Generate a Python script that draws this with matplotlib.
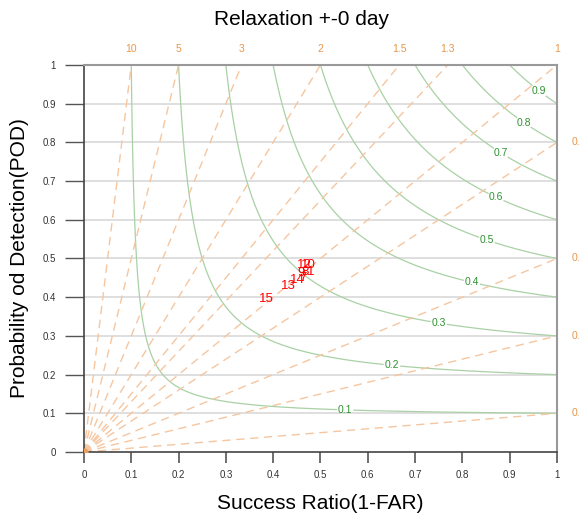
import numpy as np
import matplotlib.pyplot as plt

plt.rcParams['font.family'] = ['Liberation Sans', 'DejaVu Sans']

# verification points (success ratio, POD) and their labels
labels = ["15", "13", "14", "7", "9", "8", "1", "12", "10"]
sr = [0.385, 0.433, 0.452, 0.462, 0.459, 0.468, 0.480, 0.467, 0.475]
pod = [0.395, 0.429, 0.444, 0.450, 0.463, 0.466, 0.466, 0.483, 0.482]

# frequency bias lines
bias = [0.1, 0.3, 0.5, 0.8, 1, 1.3, 1.5, 2, 3, 5, 10]
bias_top = ["10", "5", "3", "2", "1.5", "1.3", "1"]
bias_right = ["0.8", "0.5", "0.3", "0.1"]

# CSI contours and where their labels sit (success ratio)
csi = [0.1, 0.2, 0.3, 0.4, 0.5, 0.6, 0.7, 0.8, 0.9]
csi_lab_x = [0.552, 0.651, 0.75, 0.82, 0.852, 0.871, 0.881, 0.93, 0.962]

fig = plt.figure(figsize=(5.79, 5.14), dpi=100)
ax = fig.add_axes([0.145, 0.1206, 0.817, 0.753])
ax.set_xlim(0, 1)
ax.set_ylim(0, 1)

orange = '#f5c6a0'
orange_txt = '#e8974a'
green = '#a9d1a5'
green_txt = '#2e9230'

# horizontal grid
for yy in np.arange(0.1, 1.0, 0.1):
    ax.axhline(yy, color='#d9d9d9', lw=1.2, zorder=1)

# CSI contours
g = np.linspace(0.001, 1, 400)
X, Y = np.meshgrid(g, g)
Z = 1 / (1 / X + 1 / Y - 1)
cs = ax.contour(X, Y, Z, levels=csi, colors=green, linewidths=0.9, zorder=2)
pos = []
for c, xs in zip(csi, csi_lab_x):
    pos.append((xs, 1 / (1 / c - 1 / xs + 1)))
txts = ax.clabel(cs, levels=csi, manual=pos, fmt='%.1f', fontsize=7.5, colors=green_txt, inline=True, inline_spacing=1)
for t in txts:
    t.set_rotation(0)

# bias lines
for b in bias:
    xe = min(1, 1 / b)
    ax.plot([0, xe], [0, b * xe], ls=(0, (6, 4)), color=orange, lw=1, zorder=2)
ax.plot([0], [0], 'o', color='#e8a060', ms=5, zorder=3)

for t in bias_top:
    ax.text(1 / float(t), 1.04, t, color=orange_txt, fontsize=7.5, ha='center', va='center', clip_on=False)
for t in bias_right:
    ax.text(1.03, float(t), t, color=orange_txt, fontsize=7.5, ha='left', va='center', clip_on=False)

# points
for l, a, b in zip(labels, sr, pod):
    ax.text(a, b, l, color='red', fontsize=9.5, ha='center', va='center', zorder=5)

ax.set_xticks(np.arange(0, 1.01, 0.1))
ax.set_yticks(np.arange(0, 1.01, 0.1))
ax.set_xticklabels(['0', '0.1', '0.2', '0.3', '0.4', '0.5', '0.6', '0.7', '0.8', '0.9', '1'])
ax.set_yticklabels(['0', '0.1', '0.2', '0.3', '0.4', '0.5', '0.6', '0.7', '0.8', '0.9', '1'])
ax.tick_params(axis='x', length=8, width=1.2, color='#555555', labelsize=7, labelcolor='#333333', pad=5)
ax.tick_params(axis='y', length=14, width=1, color='#555555', labelsize=7, labelcolor='#333333', pad=6)
for s in ['left', 'bottom']:
    ax.spines[s].set_color('#444444')
    ax.spines[s].set_linewidth(1.2)
for s in ['top', 'right']:
    ax.spines[s].set_color('#999999')
    ax.spines[s].set_linewidth(1.5)

ax.set_xlabel('Success Ratio(1-FAR)', fontsize=15, labelpad=10)
ax.set_ylabel('Probability od Detection(POD)', fontsize=15, labelpad=10)
fig.text(0.52, 0.962, 'Relaxation +-0 day', fontsize=15, ha='center', va='center')

fig.savefig('out.png', dpi=100)
